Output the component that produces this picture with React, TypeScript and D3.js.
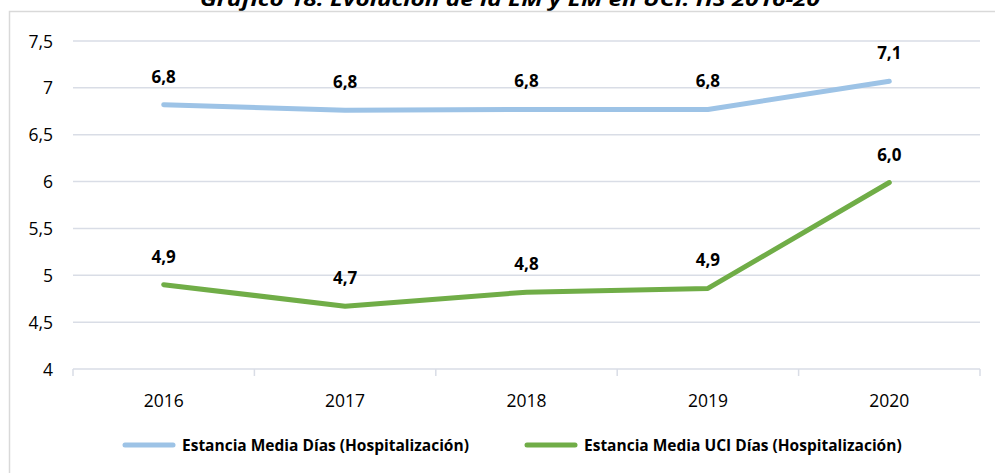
import React from "react";
import * as d3 from "d3";

const years = ["2016", "2017", "2018", "2019", "2020"];
const estanciaMedia = [6.82, 6.76, 6.77, 6.77, 7.07];
const estanciaUCI = [4.9, 4.67, 4.82, 4.86, 5.99];
const yTicks = [4, 4.5, 5, 5.5, 6, 6.5, 7, 7.5];
const seriesNames = [
  "Estancia Media Días (Hospitalización)",
  "Estancia Media UCI Días (Hospitalización)",
];
const seriesColors = ["#9dc3e6", "#70ad47"];
const title = "Gráfico 18. Evolución de la EM y EM en UCI. HS 2016-20";

const W = 995;
const H = 473;
const FONT = "'Open Sans', Lato, 'DejaVu Sans', sans-serif";

export default function App() {
  const x = d3.scaleBand<string>().domain(years).range([73, 980]);
  const y = d3.scaleLinear().domain([4, 7.5]).range([369, 41]);
  const fmt = (v: number) => v.toFixed(1).replace(".", ",");
  const cx = (d: string) => (x(d) as number) + x.bandwidth() / 2;
  const line = d3
    .line<number>()
    .x((_, i) => cx(years[i]))
    .y((v) => y(v));
  const series = [estanciaMedia, estanciaUCI];
  const bounds = years.map((d) => x(d) as number).concat([980]);

  return (
    <div style={{ position: "absolute", left: 0, top: 0 }}>
      <svg width={W} height={H} style={{ display: "block", fontFamily: FONT }}>
        <rect x={0} y={0} width={W} height={H} fill="#fff" />
        <text
          x={200}
          y={6}
          fontSize={19}
          fontWeight="bold"
          fontStyle="italic"
          fill="#000"
          textLength={620}
          lengthAdjust="spacingAndGlyphs"
        >
          {title}
        </text>
        <rect x={9.5} y={11.5} width={1000} height={480} fill="#fff" stroke="#d9d9d9" strokeWidth={1.5} />
        {yTicks.map((t) => (
          <g key={t}>
            {t > 4 && (
              <line x1={73} x2={980} y1={y(t)} y2={y(t)} stroke="#d9dde6" strokeWidth={1.5} />
            )}
            <text x={53} y={y(t) + 6.5} textAnchor="end" fontSize={17.5} fill="#000">
              {fmt(t).replace(",0", "")}
            </text>
          </g>
        ))}
        <line x1={73} x2={980} y1={y(4)} y2={y(4)} stroke="#d9dde6" strokeWidth={1.5} />
        {bounds.map((b, i) => (
          <line key={i} x1={b} x2={b} y1={y(4)} y2={y(4) + 7} stroke="#d9dde6" strokeWidth={1.5} />
        ))}
        {years.map((d) => (
          <text key={d} x={cx(d)} y={407} textAnchor="middle" fontSize={17.5} fill="#000">
            {d}
          </text>
        ))}
        {series.map((s, k) => (
          <g key={k}>
            <path
              d={line(s) || ""}
              fill="none"
              stroke={seriesColors[k]}
              strokeWidth={5}
              strokeLinecap="round"
              strokeLinejoin="round"
            />
            {s.map((v, i) => (
              <text
                key={i}
                x={cx(years[i])}
                y={y(v) - 22}
                textAnchor="middle"
                fontSize={17}
                fontWeight="bold"
                fill="#000"
              >
                {fmt(v)}
              </text>
            ))}
          </g>
        ))}
        {seriesNames.map((n, k) => {
          const lx = k === 0 ? 123 : 525;
          return (
            <g key={n}>
              <line
                x1={lx + 2}
                x2={lx + 50}
                y1={445}
                y2={445}
                stroke={seriesColors[k]}
                strokeWidth={5}
                strokeLinecap="round"
              />
              <text x={lx + 59} y={450.5} fontSize={15.5} fontWeight="bold" fill="#000">
                {n}
              </text>
            </g>
          );
        })}
      </svg>
    </div>
  );
}
